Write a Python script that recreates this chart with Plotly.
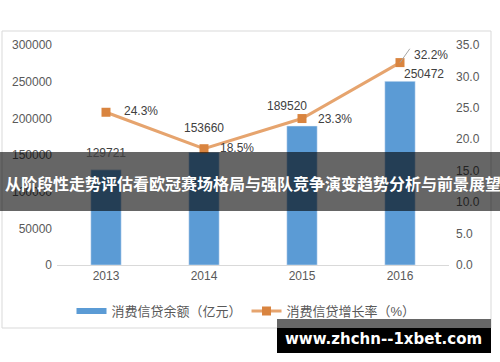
import plotly.graph_objects as go

years = ["2013", "2014", "2015", "2016"]
balance = [129721, 153660, 189520, 250472]
growth = [24.3, 18.5, 23.3, 32.2]
left_ticks = [0, 50000, 100000, 150000, 200000, 250000, 300000]
right_ticks = [0, 5, 10, 15, 20, 25, 30, 35]

title_text = "从阶段性走势评估看欧冠赛场格局与强队竞争演变趋势分析与前景展望"
watermark = "www.zhchn--1xbet.com"
bar_name = "消费信贷余额（亿元）"
line_name = "消费信贷增长率（%）"

W, H = 500, 362
L, R, T, B = 57, 449, 45, 265  # plot area in px


def px(x):
    return (x - L) / (R - L)


def py(y):
    return (B - y) / (B - T)


xi = list(range(len(years)))
BLUE = "#5B9BD5"

fig = go.Figure()
fig.add_trace(go.Bar(
    x=xi, y=balance, name=bar_name, marker_color=BLUE,
    width=0.31, yaxis="y", xaxis="x", showlegend=False,
))
# legend-only entry drawn as a wide patch like the reference legend
fig.add_trace(go.Scatter(
    x=[None], y=[None], name=bar_name, mode="lines",
    line=dict(color=BLUE, width=6), yaxis="y", xaxis="x",
))
fig.add_trace(go.Scatter(
    x=xi, y=growth, name=line_name, yaxis="y2", xaxis="x", mode="lines+markers",
    line=dict(color="#E6A46E", width=3),
    marker=dict(symbol="square", size=9, color="#D9843F"),
))

font_fam = "Liberation Sans, Noto Sans CJK SC, sans-serif"
annos = []
bar_off = [(0, 8), (0, 15), (-15, 11), (24, -2)]
for i, v, (dx, dy) in zip(xi, balance, bar_off):
    annos.append(dict(x=i, y=v, xref="x", yref="y", text=str(v), showarrow=False,
                      yanchor="bottom", xshift=dx, yshift=dy,
                      font=dict(size=12, color="#404040", family=font_fam)))
line_off = [(16, 1), (14, 1), (14, 0), (12, 8)]
for i, v, (dx, dy) in zip(xi, growth, line_off):
    annos.append(dict(x=i, y=v, xref="x", yref="y2", text=f"{v}%", showarrow=False,
                      xanchor="left", xshift=dx, yshift=dy,
                      font=dict(size=12, color="#404040", family=font_fam)))

annos.append(dict(x=0.5, y=py(183), xref="paper", yref="paper", text=f"<b>{title_text}</b>",
                  showarrow=False, xanchor="center", yanchor="middle",
                  font=dict(size=16, color="white", family="Noto Sans CJK SC")))
annos.append(dict(x=px(383), y=py(339), xref="paper", yref="paper", text=f"<b>{watermark}</b>",
                  showarrow=False, xanchor="center", yanchor="middle",
                  font=dict(size=15, color="white", family="DejaVu Sans")))

shapes = [
    dict(type="rect", xref="paper", yref="paper", x0=px(2), x1=px(491), y0=py(31), y1=py(328),
         line=dict(color="#D9D9D9", width=1), fillcolor="rgba(0,0,0,0)", layer="below"),
    dict(type="line", xref="x", yref="y2", x0=xi[3], y0=growth[3], x1=xi[3] + 0.1, y1=growth[3] + 2.2,
         line=dict(color="#A6A6A6", width=1)),
    dict(type="rect", xref="paper", yref="paper", x0=px(-5), x1=px(505), y0=py(152), y1=py(211),
         line=dict(width=0), fillcolor="rgba(0,0,0,0.6)", layer="above"),
    dict(type="rect", xref="paper", yref="paper", x0=px(277), x1=px(491), y0=py(319), y1=py(328),
         line=dict(width=0), fillcolor="#666666", layer="above"),
    dict(type="rect", xref="paper", yref="paper", x0=px(277), x1=px(491), y0=py(328), y1=py(353),
         line=dict(width=0), fillcolor="#000000", layer="above"),
]

fig.update_layout(
    width=W, height=H,
    margin=dict(l=L, r=W - R, t=T, b=H - B),
    paper_bgcolor="white", plot_bgcolor="white",
    font=dict(family=font_fam, size=12, color="#595959"),
    xaxis=dict(range=[-0.5, len(years) - 0.5], tickvals=xi, ticktext=years,
               showgrid=False, showline=True, linecolor="#D9D9D9", ticks="", zeroline=False,
               tickfont=dict(size=12, color="#595959")),
    yaxis=dict(range=[0, 300000], tickvals=left_ticks, showgrid=False, zeroline=False,
               tickformat="d", ticklabelstandoff=4, tickfont=dict(size=12, color="#595959")),
    yaxis2=dict(range=[0, 35], tickvals=right_ticks, overlaying="y", side="right",
                showgrid=False, zeroline=False, tickformat=".1f", ticksuffix="%",
                ticklabelstandoff=6, tickfont=dict(size=12, color="#595959")),
    legend=dict(orientation="h", x=px(246), xanchor="center", y=py(311), yanchor="middle",
                font=dict(size=13, color="#595959"), bgcolor="rgba(0,0,0,0)"),
    annotations=annos, shapes=shapes,
)

fig.write_html("out.html")
